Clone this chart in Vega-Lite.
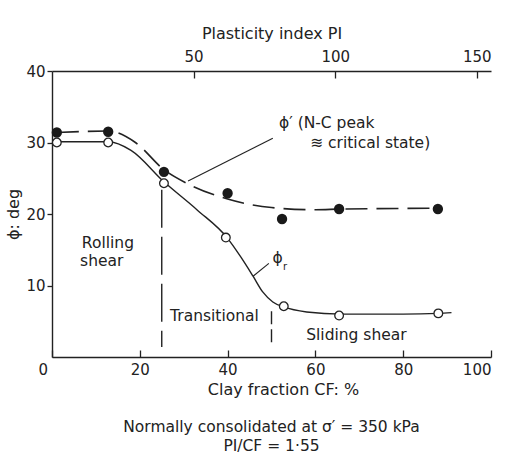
{
  "$schema": "https://vega.github.io/schema/vega-lite/v6.json",
  "width": 439,
  "height": 286,
  "autosize": {"type": "none"},
  "padding": {"left": 52, "top": 71, "right": 20, "bottom": 98},
  "background": "white",
  "config": {
    "view": {"stroke": null},
    "font": "DejaVu Sans",
    "axis": {
      "grid": false,
      "domainColor": "#222",
      "tickColor": "#222",
      "labelColor": "#222",
      "titleColor": "#222",
      "labelFont": "DejaVu Sans",
      "titleFont": "DejaVu Sans",
      "labelFontSize": 15,
      "titleFontSize": 16,
      "titleFontWeight": "normal",
      "domainWidth": 1.4,
      "tickWidth": 1.3
    },
    "text": {"font": "DejaVu Sans", "fontSize": 16, "color": "#222"}
  },
  "title": {
    "text": ["Normally consolidated at σ′ = 350 kPa", "PI/CF = 1·55"],
    "orient": "bottom",
    "anchor": "middle",
    "font": "DejaVu Sans",
    "fontSize": 15.5,
    "fontWeight": "normal",
    "color": "#222",
    "lineHeight": 19,
    "offset": 23
  },
  "datasets": {
    "peak": [
      {"CF": 1.1, "phi": 31.4},
      {"CF": 12.8, "phi": 31.5},
      {"CF": 25.5, "phi": 25.9},
      {"CF": 40, "phi": 22.9},
      {"CF": 52.4, "phi": 19.3},
      {"CF": 65.4, "phi": 20.7},
      {"CF": 87.9, "phi": 20.7}
    ],
    "resid": [
      {"CF": 1.1, "phi": 30.0},
      {"CF": 12.8, "phi": 30.0},
      {"CF": 25.5, "phi": 24.3},
      {"CF": 39.6, "phi": 16.7},
      {"CF": 52.8, "phi": 7.1},
      {"CF": 65.4, "phi": 5.8},
      {"CF": 88, "phi": 6.1}
    ],
    "peakCurve": [
      {"CF": 1.1, "phi": 31.4},
      {"CF": 12.8, "phi": 31.6},
      {"CF": 19, "phi": 30.0},
      {"CF": 25.5, "phi": 26.2},
      {"CF": 31, "phi": 24.2},
      {"CF": 40, "phi": 22.1},
      {"CF": 50, "phi": 20.9},
      {"CF": 60, "phi": 20.6},
      {"CF": 66, "phi": 20.7},
      {"CF": 88, "phi": 20.8}
    ],
    "residCurve": [
      {"CF": 1.1, "phi": 30.1},
      {"CF": 12.8, "phi": 30.1},
      {"CF": 18, "phi": 28.9},
      {"CF": 25.5, "phi": 24.5},
      {"CF": 33, "phi": 20.6},
      {"CF": 40, "phi": 16.6},
      {"CF": 43, "phi": 14.0},
      {"CF": 45.8, "phi": 11.3},
      {"CF": 48, "phi": 9.1},
      {"CF": 50.3, "phi": 7.7},
      {"CF": 52.8, "phi": 7.0},
      {"CF": 58, "phi": 6.3},
      {"CF": 66, "phi": 6.0},
      {"CF": 80, "phi": 6.0},
      {"CF": 88, "phi": 6.1},
      {"CF": 91, "phi": 6.2}
    ],
    "leaders": [
      {"CF": 31, "phi": 24.6, "CF2": 50.3, "phi2": 30.6},
      {"CF": 45.8, "phi": 11.3, "CF2": 49.4, "phi2": 13.1}
    ],
    "labels": [
      {"CF": 6.8, "phi": 15.9, "label": "Rolling"},
      {"CF": 6.4, "phi": 13.4, "label": "shear"},
      {"CF": 26.9, "phi": 5.7, "label": "Transitional"},
      {"CF": 57.9, "phi": 3.1, "label": "Sliding shear"},
      {"CF": 51.7, "phi": 32.7, "label": "ϕ′ (N-C peak"},
      {"CF": 58.8, "phi": 29.9, "label": "≋  critical state)"},
      {"CF": 50.2, "phi": 13.8, "label": "ϕ"}
    ]
  },
  "layer": [
    {
      "layer": [
        {
          "data": {"values": [{"CF": 25, "phi": 23.4, "phi2": 1.4}]},
          "mark": {"type": "rule", "color": "#222", "strokeWidth": 1.4, "strokeDash": [38, 9]},
          "encoding": {
            "x": {"field": "CF", "type": "quantitative", "scale": {"domain": [0, 100], "nice": false},
              "axis": {
                "orient": "bottom",
                "values": [0, 20, 40, 60, 80, 100],
                "tickSize": -7,
                "labelPadding": 12,
                "labelOffset": {"condition": {"test": "datum.value === 0", "value": -14}, "value": 0},
                "title": "Clay fraction CF: %",
                "titlePadding": 4,
                "titleX": 231
              }},
            "y": {"field": "phi", "type": "quantitative", "scale": {"domain": [0, 40], "nice": false},
              "axis": {
                "orient": "left",
                "values": [10, 20, 30, 40],
                "tickSize": 5,
                "labelPadding": 2,
                "title": "ϕ: deg",
                "titlePadding": 4
              }},
            "y2": {"field": "phi2"}
          }
        },
        {
          "data": {"values": [{"CF": 50, "phi": 6.4, "phi2": 1.4}]},
          "mark": {"type": "rule", "color": "#222", "strokeWidth": 1.4, "strokeDash": [13, 5]},
          "encoding": {
            "x": {"field": "CF", "type": "quantitative"},
            "y": {"field": "phi", "type": "quantitative"},
            "y2": {"field": "phi2"}
          }
        },
        {
          "data": {"name": "leaders"},
          "mark": {"type": "rule", "color": "#222", "strokeWidth": 1.1},
          "encoding": {
            "x": {"field": "CF", "type": "quantitative"},
            "y": {"field": "phi", "type": "quantitative"},
            "x2": {"field": "CF2"},
            "y2": {"field": "phi2"}
          }
        },
        {
          "data": {"name": "residCurve"},
          "mark": {"type": "line", "color": "#222", "strokeWidth": 1.4, "interpolate": "monotone"},
          "encoding": {
            "x": {"field": "CF", "type": "quantitative"},
            "y": {"field": "phi", "type": "quantitative"}
          }
        },
        {
          "data": {"name": "peakCurve"},
          "mark": {"type": "line", "color": "#222", "strokeWidth": 1.6, "interpolate": "monotone", "strokeDash": [22, 9]},
          "encoding": {
            "x": {"field": "CF", "type": "quantitative"},
            "y": {"field": "phi", "type": "quantitative"}
          }
        },
        {
          "data": {"name": "resid"},
          "mark": {"type": "point", "shape": "circle", "filled": true, "fill": "white", "stroke": "#222", "strokeWidth": 1.3, "size": 75, "opacity": 1},
          "encoding": {
            "x": {"field": "CF", "type": "quantitative"},
            "y": {"field": "phi", "type": "quantitative"}
          }
        },
        {
          "data": {"name": "peak"},
          "mark": {"type": "point", "shape": "circle", "filled": true, "fill": "#1a1a1a", "stroke": "#1a1a1a", "size": 70, "opacity": 1},
          "encoding": {
            "x": {"field": "CF", "type": "quantitative"},
            "y": {"field": "phi", "type": "quantitative"}
          }
        },
        {
          "data": {"name": "labels"},
          "mark": {"type": "text", "align": "left", "baseline": "middle", "fontSize": 15.5},
          "encoding": {
            "x": {"field": "CF", "type": "quantitative"},
            "y": {"field": "phi", "type": "quantitative"},
            "text": {"field": "label"}
          }
        },
        {
          "data": {"values": [{"CF": 52.6, "phi": 12.6, "label": "r"}]},
          "mark": {"type": "text", "align": "left", "baseline": "middle", "fontSize": 10},
          "encoding": {
            "x": {"field": "CF", "type": "quantitative"},
            "y": {"field": "phi", "type": "quantitative"},
            "text": {"field": "label"}
          }
        }
      ]
    },
    {
      "data": {"values": [{"PI": 0}, {"PI": 155}]},
      "mark": {"type": "rule", "opacity": 0},
      "encoding": {
        "x": {"field": "PI", "type": "quantitative", "scale": {"domain": [0, 155], "nice": false, "zero": false},
          "axis": {
            "orient": "top",
            "values": [50, 100, 150],
            "tickSize": -7,
            "labelPadding": 14,
            "title": "Plasticity index PI",
            "titlePadding": 8
          }}
      }
    }
  ],
  "resolve": {"scale": {"x": "independent"}}
}
